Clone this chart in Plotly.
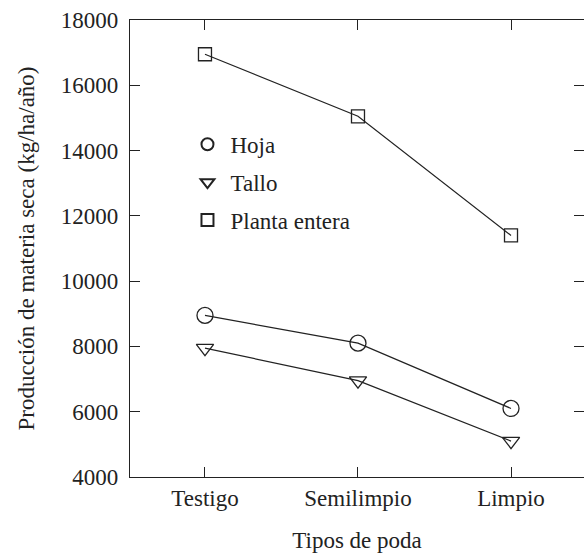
import plotly.graph_objects as go

categorias = ["Testigo", "Semilimpio", "Limpio"]
hoja = [8950, 8100, 6100]
tallo = [7950, 6950, 5100]
planta = [16950, 15050, 11400]
y_ticks = [4000, 6000, 8000, 10000, 12000, 14000, 16000, 18000]

FONT = "Liberation Serif, Times New Roman, serif"
LINE = "#222222"
FS = 23

series = [
    ("Hoja", hoja, "circle-open", 16),
    ("Tallo", tallo, "triangle-down-open", 15),
    ("Planta entera", planta, "square-open", 13),
]

fig = go.Figure()
x = list(range(len(categorias)))
for name, vals, sym, sz in series:
    fig.add_trace(go.Scatter(x=x, y=vals, mode="lines+markers", name=name, showlegend=False,
                             line=dict(color=LINE, width=1.2),
                             marker=dict(symbol=sym, size=sz, color=LINE, line=dict(width=1.3))))
for i, (name, vals, sym, sz) in enumerate(series):
    fig.add_trace(go.Scatter(x=[None], y=[None], mode="markers", name=name, legendgroup=str(i),
                             marker=dict(symbol=sym, size=sz, color=LINE, line=dict(width=1.3))))
# helper trace for right-side tick axis
fig.add_trace(go.Scatter(x=[0], y=[4000], xaxis="x", yaxis="y2", mode="markers",
                         marker=dict(opacity=0), showlegend=False, hoverinfo="skip"))

fig.update_layout(
    width=584, height=556,
    margin=dict(l=130, r=0, t=20, b=79),
    plot_bgcolor="white", paper_bgcolor="white",
    font=dict(family=FONT, size=FS, color="#222222"),
    xaxis=dict(range=[-0.49, 2.477], tickvals=x, ticktext=categorias,
               showline=True, linecolor=LINE, linewidth=1.2, mirror="ticks",
               ticks="inside", ticklen=10, tickcolor=LINE, tickwidth=1.2,
               showgrid=False, zeroline=False,
               title=dict(text="Tipos de poda", standoff=22, font=dict(size=FS, family=FONT))),
    yaxis=dict(range=[4000, 18000], tickvals=y_ticks, tickformat="d",
               showline=True, linecolor=LINE, linewidth=1.2,
               ticks="inside", ticklen=10, tickcolor=LINE, tickwidth=1.2,
               ticklabelstandoff=6,
               showgrid=False, zeroline=False,
               title=dict(text="Producción de materia seca (kg/ha/año)", standoff=19,
                          font=dict(size=FS, family=FONT))),
    yaxis2=dict(range=[4000, 18000], overlaying="y", side="right", anchor="x",
                tickvals=y_ticks[1:-1],
                showline=False, showticklabels=False,
                ticks="inside", ticklen=10, tickcolor=LINE, tickwidth=1.2,
                showgrid=False, zeroline=False),
    legend=dict(x=0.12, y=0.775, xanchor="left", yanchor="top",
                bgcolor="rgba(0,0,0,0)", font=dict(size=FS, family=FONT, color="#222222"),
                tracegroupgap=5, itemwidth=36, itemsizing="constant"),
    showlegend=True,
)

fig.write_html("out.html", post_script="document.body.style.margin='0';",
               config={"displayModeBar": False})
